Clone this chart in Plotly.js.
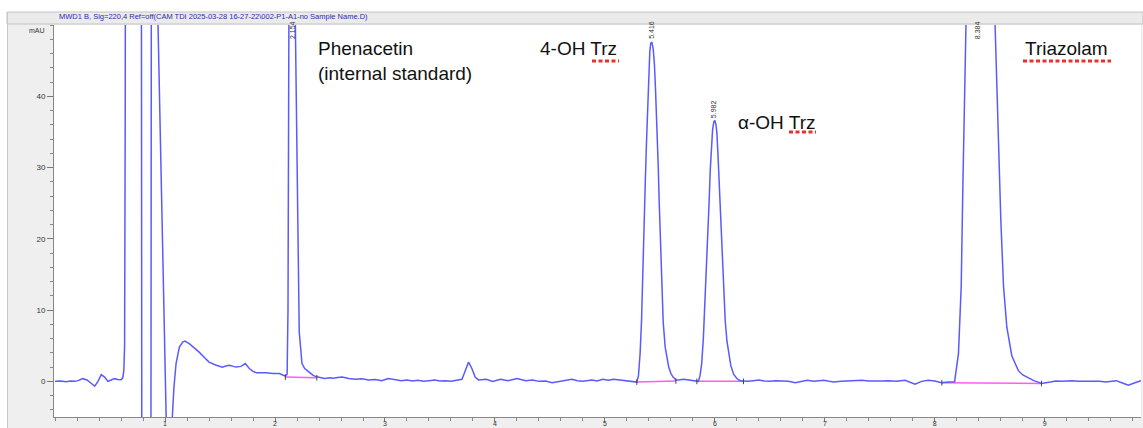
<!DOCTYPE html>
<html>
<head>
<meta charset="utf-8">
<script src="https://cdn.plot.ly/plotly-3.0.1.min.js"></script>
<style>html,body{margin:0;padding:0;background:#fff;}#chart{width:1143px;height:428px;}</style>
</head>
<body>
<div id="chart"></div>
<script>
// Retention time (min) and signal (mAU)
const time_min = [
  0.00, 0.05, 0.10, 0.14, 0.18, 0.21, 0.25, 0.29, 0.33, 0.36, 0.39, 0.42, 0.45, 0.48, 0.51, 0.54, 0.57, 0.60,
  0.615, 0.625, 0.632, 0.638, 0.645, 0.78, 0.79, 0.87, 0.88, 0.93, 0.936, 1.01, 1.02, 1.05, 1.066,
  1.08, 1.10, 1.13, 1.16, 1.18, 1.22, 1.26, 1.31, 1.36, 1.40, 1.46, 1.52, 1.56, 1.585, 1.62, 1.645,
  1.69, 1.73, 1.766, 1.80, 1.83, 1.88, 1.92, 1.98, 2.04, 2.07, 2.094, 2.11, 2.118, 2.126, 2.154,
  2.185, 2.205, 2.22, 2.245, 2.27, 2.31, 2.35, 2.39, 2.45, 2.50, 2.53, 2.57, 2.61, 2.67, 2.73, 2.79, 2.85, 2.91, 2.97, 3.03,
  3.09, 3.15, 3.20, 3.25, 3.30, 3.35, 3.40, 3.45, 3.50, 3.55, 3.60, 3.65, 3.70, 3.73, 3.76, 3.79, 3.82, 3.85, 3.92, 3.98, 4.05,
  4.12, 4.20, 4.28, 4.34, 4.40, 4.46, 4.52, 4.57, 4.62, 4.70, 4.75, 4.80, 4.88, 4.93, 4.98, 5.03, 5.08, 5.13, 5.18, 5.25, 5.29,
  5.305, 5.32, 5.333, 5.343, 5.355, 5.366, 5.378, 5.39, 5.40, 5.408, 5.416, 5.427, 5.44, 5.45, 5.46, 5.473, 5.484,
  5.494, 5.506, 5.518, 5.53, 5.548, 5.565, 5.58, 5.60, 5.62, 5.65, 5.69, 5.715,
  5.76, 5.82, 5.85, 5.865, 5.88, 5.895, 5.91, 5.923, 5.936, 5.947, 5.958, 5.969, 5.979, 5.99, 6.00, 6.01, 6.018,
  6.029, 6.04, 6.052, 6.064, 6.079, 6.094, 6.11, 6.125, 6.145, 6.17, 6.20, 6.23,
  6.30, 6.35, 6.40, 6.45, 6.50, 6.55, 6.61, 6.67, 6.73, 6.78, 6.84, 6.90, 6.95, 6.99, 7.04, 7.08, 7.15, 7.22, 7.28, 7.34, 7.40, 7.46, 7.52, 7.58, 7.65, 7.73,
  7.82, 7.88, 7.94, 8.00, 8.06, 8.12, 8.18, 8.215, 8.24, 8.255, 8.266, 8.275, 8.30, 8.384, 8.45, 8.52, 8.548, 8.564,
  8.58, 8.60, 8.625, 8.655, 8.70, 8.73, 8.76, 8.80, 8.85, 8.90, 8.94, 8.97, 9.05, 9.10, 9.15, 9.20, 9.25, 9.30, 9.35,
  9.40, 9.45, 9.50, 9.55, 9.60, 9.65, 9.70, 9.76, 9.82, 9.875
];
const signal_mAU = [
  0.0, 0.05, -0.05, 0.05, 0.0, 0.1, 0.38, 0.2, -0.3, -0.66, 0.0, 0.94, 0.6, 0.0, 0.2, 0.38, 0.25, 0.24,
  0.5, 1.5, 5, 40, 150, 150, -40, -40, 150, 150, 50, -5, -20, -20, -5,
  -1, 2.5, 4.8, 5.5, 5.65, 5.3, 4.8, 4.1, 3.3, 2.7, 2.3, 2.0, 2.2, 2.25, 2.1, 2.0,
  2.1, 2.5, 1.8, 1.4, 1.2, 1.25, 1.2, 1.1, 1.1, 0.9, 0.75, 1.0, 10, 50, 75,
  50, 20, 7, 2.5, 1.8, 1.3, 0.8, 0.6, 0.4, 0.5, 0.45, 0.55, 0.6, 0.4, 0.3, 0.35, 0.2, 0.25, 0.1, 0.4,
  0.2, 0.1, 0.2, 0.05, 0.15, 0.0, 0.1, 0.2, 0.05, 0.1, 0.0, 0.2, 0.3, 1.5, 2.7, 1.8, 0.6, 0.2, 0.3, 0.0, 0.3,
  0.1, 0.4, 0.1, 0.2, 0.0, 0.05, -0.2, -0.05, 0.0, 0.3, 0.1, 0.0, 0.2, 0.05, 0.3, 0.15, 0.3, 0.2, 0.1, -0.1, -0.1,
  0.8, 3.9, 8.5, 13.3, 20.0, 27.4, 33.5, 39.1, 43.5, 46.2, 47.4, 47.6, 46.5, 44.5, 41.0, 36.0, 30.5,
  25.0, 18.5, 12.5, 8.3, 4.8, 3.0, 2.0, 1.1, 0.6, 0.15, 0.2, 0.3,
  0.2, 0.1, 0.0, 0.8, 2.5, 6.0, 10.9, 15.5, 20.3, 25.0, 29.7, 33.0, 35.3, 36.4, 36.6, 36.0, 34.9,
  31.5, 27.4, 22.5, 18.0, 13.0, 8.5, 5.6, 3.8, 2.2, 1.0, 0.4, 0.1,
  0.0, 0.1, 0.2, 0.05, 0.0, 0.1, 0.1, 0.0, -0.2, 0.0, 0.15, 0.0, 0.1, 0.15, 0.0, -0.1, 0.0, 0.05, 0.1, 0.15, 0.05, 0.0, 0.05, 0.1, 0.0, 0.15,
  -0.4, 0.0, 0.15, 0.05, -0.2, -0.1, -0.05, 3.9, 13.3, 27.4, 41.4, 50, 90, 130, 110, 70, 50, 41.4,
  32, 22.7, 13.3, 7.6, 3.6, 2.5, 1.5, 0.9, 0.45, 0.1, -0.1, -0.3, -0.1, 0.05, 0.0, 0.1, 0.1, 0.0, 0.0,
  0.1, 0.1, 0.0, -0.1, 0.05, 0.1, -0.2, -0.55, -0.2, 0.1
];
// Integration baselines (start/end time and level)
const base_start_t = [2.094, 5.29, 5.836, 8.064];
const base_end_t   = [2.38, 5.645, 6.26, 8.97];
const base_start_y = [0.6, -0.1, 0.0, -0.2];
const base_end_y   = [0.5, 0.05, 0.0, -0.3];
// Peak retention times and apex heights
const peak_rt = [2.154, 5.416, 5.982, 8.384];
const peak_h  = [75, 47.6, 36.5, 130];
// Compound labels
const compound_names = ["Phenacetin<br>(internal standard)", "4-OH Trz", "α-OH Trz", "Triazolam"];
const x_ticks = [1, 2, 3, 4, 5, 6, 7, 8, 9];
const y_ticks = [0, 10, 20, 30, 40];
const header_text = "MWD1 B, Sig=220,4 Ref=off(CAM TDI 2025-03-28 16-27-22\\002-P1-A1-no Sample Name.D)";

// pixel -> paper helpers (plot area: x 54..1141, y 25..417)
const L = 54, R = 2, T = 25, B = 11, W = 1143, H = 428;
const pw = W - L - R, ph = H - T - B;
const px = p => (p - L) / pw;
const py = p => (H - B - p) / ph;

const blx = [], bly = [];
base_start_t.forEach((t, i) => { blx.push(t, base_end_t[i], null); bly.push(base_start_y[i], base_end_y[i], null); });
const tickx = [], ticky = [];
base_start_t.forEach((t, i) => { tickx.push(t, base_end_t[i]); ticky.push(base_start_y[i], base_end_y[i]); });

const traces = [
  {x: blx, y: bly, mode: 'lines', line: {color: '#ff5cf0', width: 1.5}, hoverinfo: 'skip', connectgaps: false},
  {x: time_min, y: signal_mAU, mode: 'lines', line: {color: '#5a5aff', width: 1.5}, hoverinfo: 'skip'},
  {x: tickx, y: ticky, mode: 'markers', marker: {symbol: 'line-ns-open', size: 4, color: '#444', line: {width: 1, color: '#444'}}, hoverinfo: 'skip'}
];

const font = 'Liberation Sans, Arial, Helvetica, sans-serif';
const annotations = [];
annotations.push({xref: 'paper', yref: 'paper', x: px(57), y: py(17), xanchor: 'left', yanchor: 'middle', text: header_text, showarrow: false, font: {family: font, size: 7.5, color: '#2a2ab0'}});
annotations.push({xref: 'paper', yref: 'paper', x: px(47), y: py(31), xanchor: 'right', yanchor: 'middle', text: 'mAU', showarrow: false, font: {family: font, size: 7, color: '#333'}});
// peak RT labels
peak_rt.forEach((rt, i) => {
  annotations.push({x: rt, y: Math.min(peak_h[i], 47.6), xref: 'x', yref: 'y', text: rt.toFixed(3), textangle: -90, showarrow: false, xanchor: 'center', yanchor: 'bottom', yshift: 1, font: {family: font, size: 7, color: '#333'}});
});
// compound labels
const labPos = [[316, 61], [538, 49], [736, 122], [1023, 49]];
compound_names.forEach((n, i) => {
  annotations.push({xref: 'paper', yref: 'paper', x: px(labPos[i][0]), y: py(labPos[i][1]), xanchor: 'left', yanchor: 'middle', align: 'left', text: n, showarrow: false, font: {family: font, size: 19, color: '#111'}});
});

const shapes = [
  {type: 'rect', xref: 'paper', yref: 'paper', x0: px(0), x1: px(W), y0: py(0), y1: py(12), fillcolor: '#ffffff', line: {width: 0}, layer: 'below'},
  {type: 'rect', xref: 'paper', yref: 'paper', x0: px(0), x1: px(7), y0: py(0), y1: py(H), fillcolor: '#ffffff', line: {width: 0}, layer: 'below'},
  {type: 'rect', xref: 'paper', yref: 'paper', x0: px(7), x1: px(W), y0: py(12), y1: py(24), fillcolor: '#ebebeb', line: {width: 1, color: '#c4c4c4'}, layer: 'below'},
  {type: 'line', xref: 'paper', yref: 'paper', x0: px(7.5), x1: px(7.5), y0: py(12), y1: py(H), line: {width: 1, color: '#c8c8c8'}, layer: 'below'},
  // red spell-check dashes
  {type: 'line', xref: 'paper', yref: 'paper', x0: px(592), x1: px(619), y0: py(61), y1: py(61), line: {width: 3, color: '#e8322c', dash: '4px,2.5px'}},
  {type: 'line', xref: 'paper', yref: 'paper', x0: px(789), x1: px(816), y0: py(132), y1: py(132), line: {width: 3, color: '#e8322c', dash: '4px,2.5px'}},
  {type: 'line', xref: 'paper', yref: 'paper', x0: px(1023), x1: px(1111), y0: py(61), y1: py(61), line: {width: 3, color: '#e8322c', dash: '4px,2.5px'}}
];

const layout = {
  width: W, height: H,
  margin: {l: L, r: R, t: T, b: B, pad: 0},
  paper_bgcolor: '#efefef', plot_bgcolor: '#ffffff',
  showlegend: false,
  font: {family: font},
  xaxis: {range: [-0.01, 9.875], tickvals: x_ticks, ticktext: x_ticks.map(String), ticks: 'outside', ticklen: 4, tickcolor: '#777',
          ticklabelstandoff: -4,
          tickfont: {size: 7, color: '#333'}, showline: true, linecolor: '#888', linewidth: 1, zeroline: false, showgrid: false,
          minor: {dtick: 0.2, tick0: 0, ticks: 'outside', ticklen: 2.5, tickcolor: '#888', showgrid: false}, fixedrange: true},
  yaxis: {range: [-5, 50], tickvals: y_ticks, ticktext: y_ticks.map(String), ticks: 'outside', ticklen: 6, tickcolor: '#777',
          tickfont: {size: 8, color: '#333'}, showline: true, linecolor: '#888', linewidth: 1, zeroline: false, showgrid: false,
          minor: {dtick: 2, tick0: 0, ticks: 'outside', ticklen: 3, tickcolor: '#888', showgrid: false}, fixedrange: true},
  annotations: annotations,
  shapes: shapes
};

Plotly.newPlot('chart', traces, layout, {displayModeBar: false, staticPlot: true});
</script>
</body>
</html>
